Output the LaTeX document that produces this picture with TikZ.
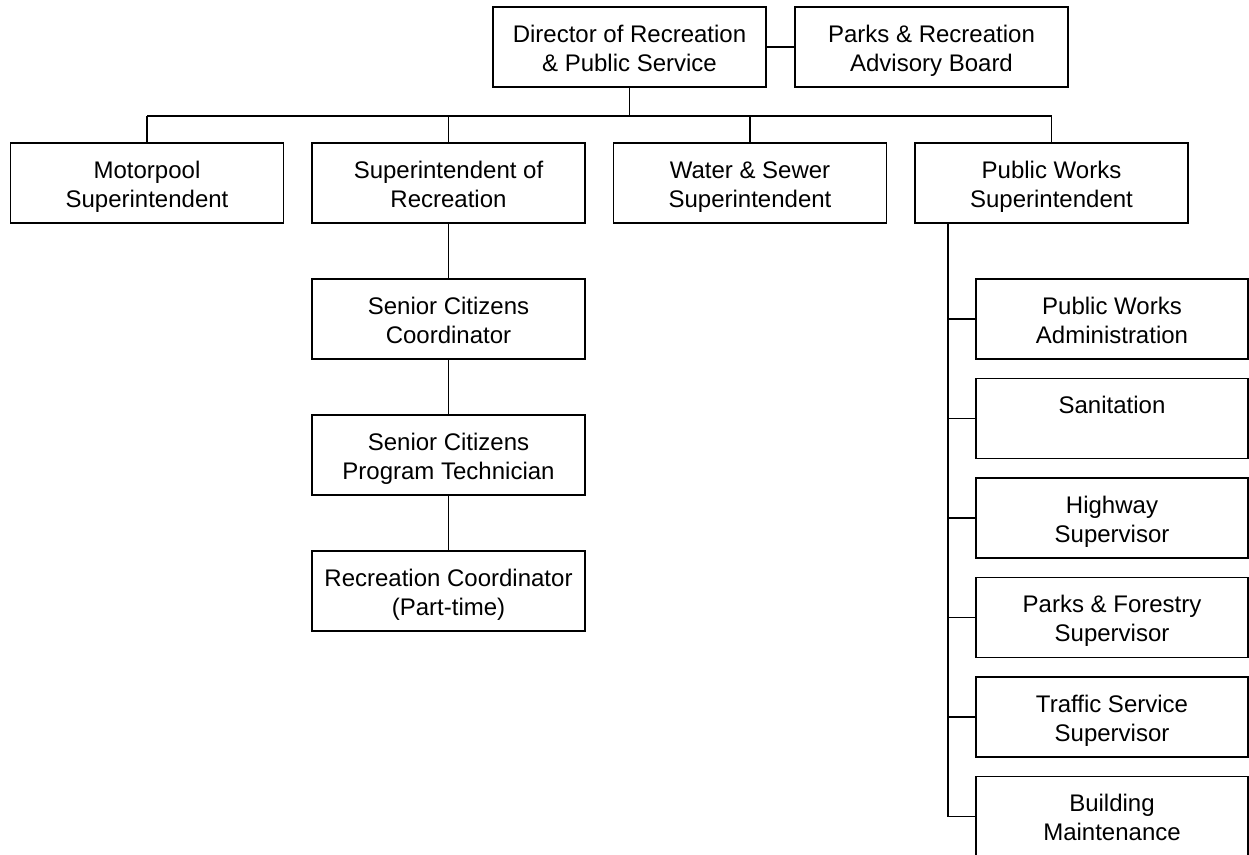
\documentclass[tikz,border=0pt]{standalone}
\usepackage{fontspec}
\setmainfont{Liberation Sans}

\begin{document}
\begin{tikzpicture}[
  x=1pt,y=-1pt,
  unit/.style={draw,line width=1.8pt,minimum width=273pt,minimum height=80pt,inner sep=0pt,align=center,font=\fontsize{24}{29}\selectfont,text height=57pt,text depth=8.7pt},
  link/.style={line width=1.8pt}
]
  \useasboundingbox (0,0) rectangle (1249,854);
  \node[unit] (director) at (629.5,47) {Director of Recreation\\\& Public Service};
  \node[unit] (board) at (931.5,47) {Parks \& Recreation\\Advisory Board};
  \node[unit] (motorpool) at (147,183) {Motorpool\\Superintendent};
  \node[unit] (suprec) at (448.5,183) {Superintendent of\\Recreation};
  \node[unit] (water) at (750,183) {Water \& Sewer\\Superintendent};
  \node[unit] (pworks) at (1051.5,183) {Public Works\\Superintendent};
  \node[unit] (seniorco) at (448.5,319) {Senior Citizens\\Coordinator};
  \node[unit] (seniortech) at (448.5,455) {Senior Citizens\\Program Technician};
  \node[unit] (recco) at (448.5,591) {Recreation Coordinator\\(Part-time)};
  \node[unit,minimum width=272pt] (pwadmin) at (1112,319) {Public Works\\Administration};
  \node[unit,minimum width=272pt] (sanit) at (1112,418.5) {Sanitation\\\mbox{}};
  \node[unit,minimum width=272pt] (highway) at (1112,518) {Highway\\Supervisor};
  \node[unit,minimum width=272pt] (parks) at (1112,617.5) {Parks \& Forestry\\Supervisor};
  \node[unit,minimum width=272pt] (traffic) at (1112,717) {Traffic Service\\Supervisor};
  \node[unit,minimum width=272pt] (building) at (1112,816.5) {Building\\Maintenance};

  \coordinate (busL) at (147,116);
  \coordinate (busR) at (1051.5,116);
  \coordinate (spine) at (948,0);
  \draw[link] (director) -- (board);
  \draw[link] (busL) -- (busR);
  \draw[link] (director) -- (director |- busL);
  \foreach \n in {motorpool,suprec,water,pworks}
    \draw[link] (\n) -- (\n |- busL);
  \draw[link] (suprec) -- (seniorco) -- (seniortech) -- (recco);
  \draw[link] (pworks.south -| spine) -- (building.west -| spine);
  \foreach \n in {pwadmin,sanit,highway,parks,traffic,building}
    \draw[link] (\n.west) -- (\n.west -| spine);
\end{tikzpicture}
\end{document}
